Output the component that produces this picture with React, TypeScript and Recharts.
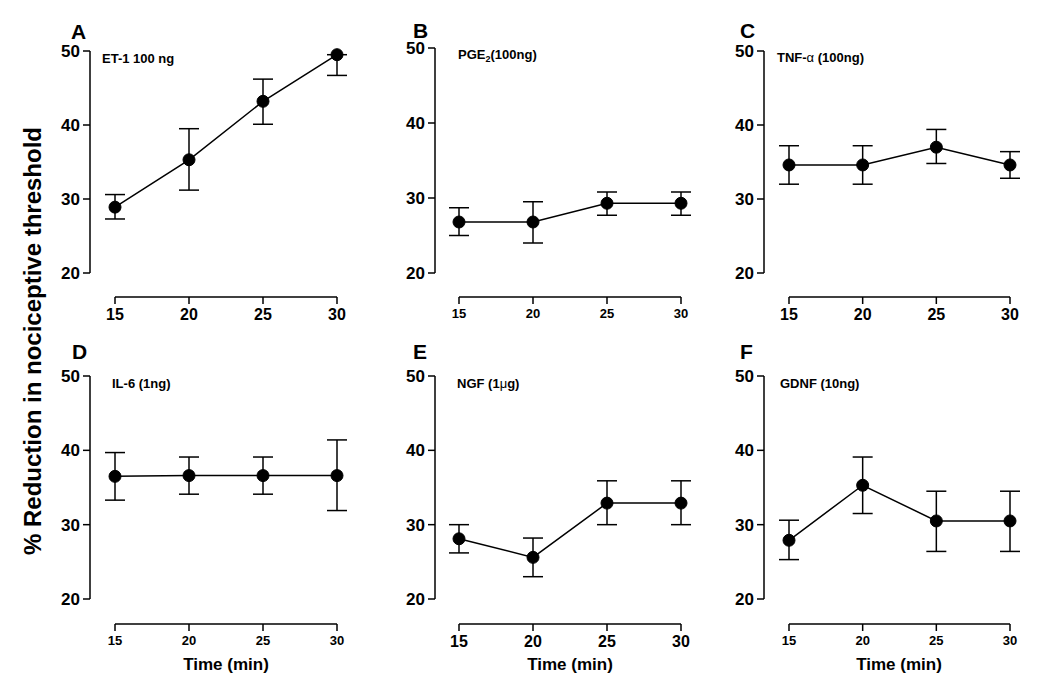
import React from 'react';
import { LineChart, Line, XAxis, YAxis, ErrorBar, ReferenceLine } from 'recharts';

const times = [15, 20, 25, 30];
const yTicks = [20, 30, 40, 50];

// mean values and the ends of the error bars
const et1Mean = [28.9, 35.3, 43.2, 49.5];
const et1Low = [27.3, 31.2, 40.1, 46.7];
const et1High = [30.6, 39.5, 46.2, 49.5]; // no upper bar visible at 30 min

const pgeMean = [26.8, 26.8, 29.3, 29.3];
const pgeLow = [25.0, 24.0, 27.7, 27.7];
const pgeHigh = [28.7, 29.5, 30.8, 30.8];

const tnfMean = [34.6, 34.6, 37.0, 34.6];
const tnfLow = [32.0, 32.0, 34.8, 32.8];
const tnfHigh = [37.2, 37.2, 39.4, 36.4];

const il6Mean = [36.5, 36.6, 36.6, 36.6];
const il6Low = [33.3, 34.1, 34.1, 31.9];
const il6High = [39.7, 39.1, 39.1, 41.4];

const ngfMean = [28.1, 25.6, 32.9, 32.9];
const ngfLow = [26.2, 23.0, 30.0, 30.0];
const ngfHigh = [30.0, 28.2, 35.9, 35.9];

const gdnfMean = [27.9, 35.3, 30.5, 30.5];
const gdnfLow = [25.3, 31.5, 26.4, 26.4];
const gdnfHigh = [30.6, 39.1, 34.5, 34.5];

const FONT = "Arial, 'Liberation Sans', Helvetica, sans-serif";

type PanelProps = {
  mean: number[];
  low: number[];
  high: number[];
  axisX: number;
  y50: number;
  y20: number;
  xAxisY: number;
  x15: number;
  x30: number;
  xTickSize: number;
};

function Panel({ mean, low, high, axisX, y50, y20, xAxisY, x15, x30, xTickSize }: PanelProps) {
  const YW = 50;
  const XH = 34;
  const MT = 14;
  const MR = 12;
  const pxX = (x30 - x15) / 15;
  const xMin = 15 - (x15 - axisX) / pxX;
  const pxY = (y20 - y50) / 30;
  const yMin = 20 - (xAxisY - y20) / pxY;

  const data = times.map((t, i) => ({
    t,
    v: mean[i],
    err: [mean[i] - low[i], high[i] - mean[i]],
  }));

  return (
    <div style={{ position: 'absolute', left: axisX - YW, top: y50 - MT }}>
      <LineChart
        width={YW + (x30 - axisX) + MR}
        height={MT + (xAxisY - y50) + XH}
        data={data}
        margin={{ top: MT, right: MR, left: 0, bottom: 0 }}
      >
        <XAxis
          type="number"
          dataKey="t"
          domain={[xMin, 30]}
          ticks={times}
          interval={0}
          height={XH}
          axisLine={false}
          tickSize={7}
          tickMargin={5}
          tickLine={{ stroke: '#000', strokeWidth: 1.5 }}
          tick={{ fill: '#000', fontSize: xTickSize, fontWeight: 'bold', fontFamily: FONT }}
        />
        <YAxis
          type="number"
          domain={[yMin, 50]}
          ticks={yTicks}
          interval={0}
          width={YW}
          axisLine={false}
          tickSize={7}
          tickMargin={3}
          tickLine={{ stroke: '#000', strokeWidth: 1.5 }}
          tick={{ fill: '#000', fontSize: 17, fontWeight: 'bold', fontFamily: FONT }}
        />
        <ReferenceLine
          segment={[{ x: xMin, y: 20 }, { x: xMin, y: 50 }]}
          stroke="#000"
          strokeWidth={1.5}
          ifOverflow="visible"
        />
        <ReferenceLine
          segment={[{ x: 15, y: yMin }, { x: 30, y: yMin }]}
          stroke="#000"
          strokeWidth={1.5}
          ifOverflow="visible"
        />
        <Line
          dataKey="v"
          stroke="#000"
          strokeWidth={1.5}
          dot={{ r: 6, fill: '#000', stroke: '#000', strokeWidth: 1 }}
          activeDot={false}
          isAnimationActive={false}
        >
          <ErrorBar dataKey="err" direction="y" width={10} stroke="#000" strokeWidth={1.5} />
        </Line>
      </LineChart>
    </div>
  );
}

const abs = (left: number, top: number, size: number, extra: React.CSSProperties = {}): React.CSSProperties => ({
  position: 'absolute',
  left,
  top,
  fontSize: size,
  fontWeight: 'bold',
  fontFamily: FONT,
  lineHeight: 1,
  whiteSpace: 'nowrap',
  color: '#000',
  transform: 'translateY(-50%)',
  ...extra,
});

export default function App() {
  return (
    <div style={{ position: 'absolute', left: 0, top: 0, width: 1050, height: 690, background: '#fff', fontFamily: FONT }}>
      <Panel mean={et1Mean} low={et1Low} high={et1High} axisX={90} y50={51} y20={273} xAxisY={297} x15={115} x30={337} xTickSize={16} />
      <Panel mean={pgeMean} low={pgeLow} high={pgeHigh} axisX={435} y50={48} y20={273} xAxisY={297} x15={459} x30={681} xTickSize={13} />
      <Panel mean={tnfMean} low={tnfLow} high={tnfHigh} axisX={764} y50={51} y20={273} xAxisY={297} x15={789} x30={1010} xTickSize={16} />
      <Panel mean={il6Mean} low={il6Low} high={il6High} axisX={90} y50={376} y20={599} xAxisY={624} x15={115} x30={337} xTickSize={13} />
      <Panel mean={ngfMean} low={ngfLow} high={ngfHigh} axisX={435} y50={376} y20={599} xAxisY={624} x15={459} x30={681} xTickSize={16} />
      <Panel mean={gdnfMean} low={gdnfLow} high={gdnfHigh} axisX={764} y50={376} y20={599} xAxisY={624} x15={789} x30={1010} xTickSize={13} />

      {/* panel letters */}
      <div style={abs(71, 31, 21)}>A</div>
      <div style={abs(413, 30, 21)}>B</div>
      <div style={abs(740, 30, 21)}>C</div>
      <div style={abs(72, 351, 21)}>D</div>
      <div style={abs(413, 351, 21)}>E</div>
      <div style={abs(740, 351, 21)}>F</div>

      {/* treatment labels */}
      <div style={abs(102, 58, 13)}>ET-1 100 ng</div>
      <div style={abs(458, 56, 13)}>
        PGE<sub style={{ fontSize: 9 }}>2</sub>(100ng)
      </div>
      <div style={abs(777, 57, 13)}>
        TNF-<span style={{ fontWeight: 'normal' }}>α</span> (100ng)
      </div>
      <div style={abs(112, 383, 13)}>IL-6 (1ng)</div>
      <div style={abs(457, 383, 13)}>
        NGF (1<span style={{ fontWeight: 'normal' }}>μ</span>g)
      </div>
      <div style={abs(780, 383, 13)}>GDNF (10ng)</div>

      {/* x axis titles */}
      <div style={abs(226, 664, 17, { transform: 'translate(-50%, -50%)' })}>Time (min)</div>
      <div style={abs(570, 664, 17, { transform: 'translate(-50%, -50%)' })}>Time (min)</div>
      <div style={abs(899, 664, 17, { transform: 'translate(-50%, -50%)' })}>Time (min)</div>

      {/* shared y axis title */}
      <div style={abs(33, 341, 24, { transform: 'translate(-50%, -50%) rotate(-90deg)' })}>
        % Reduction in nociceptive threshold
      </div>
    </div>
  );
}
